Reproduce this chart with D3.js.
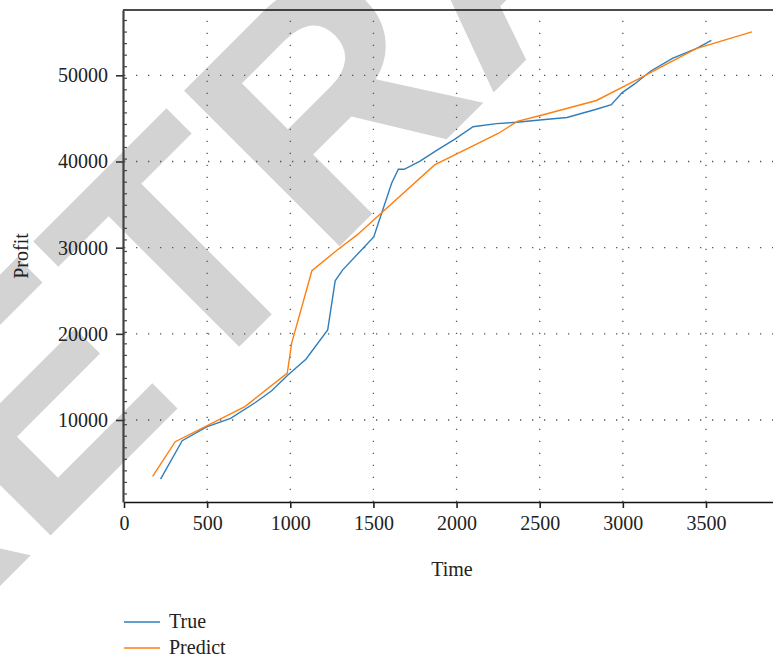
<!DOCTYPE html>
<html>
  <head>
    <meta charset="utf-8">
    <script src="https://d3js.org/d3.v7.min.js"></script>
    <style>
      body {margin:0; background:white;}
      text {font-family: "Liberation Serif", "DejaVu Serif", serif;}
    </style>
  </head>
  <body>
    <div id="chart1"></div>
    <script>
      // values
      var trueTime   = [220, 350, 497, 641, 788, 888, 984, 1094, 1225, 1270, 1314, 1502, 1610, 1650, 1685, 1780, 1890, 1990, 2099, 2240, 2360, 2516, 2664, 2830, 2931, 2996, 3071, 3168, 3301, 3441, 3532];
      var trueProfit = [3150, 7600, 9200, 10200, 12000, 13400, 15200, 17050, 20450, 26150, 27400, 31250, 37500, 39100, 39100, 40050, 41400, 42600, 44030, 44400, 44550, 44840, 45100, 46000, 46600, 48000, 49000, 50500, 52000, 53100, 54050];
      var predTime   = [172, 308, 727, 982, 1008, 1130, 1290, 1400, 1868, 2250, 2365, 2516, 2841, 3101, 3231, 3441, 3776];
      var predProfit = [3450, 7480, 11550, 15450, 18900, 27320, 29850, 31450, 39600, 43250, 44650, 45400, 47080, 49640, 50990, 53100, 55050];

      var xTicks = [0, 500, 1000, 1500, 2000, 2500, 3000, 3500];
      var yTicks = [10000, 20000, 30000, 40000, 50000];
      var seriesNames = ["True", "Predict"];
      var seriesColors = ["#2f7ebc", "#ff7f0e"];

      var W = 773, H = 657;
      var plotLeft = 124, plotRight = 773, plotTop = 10, plotBottom = 502;

      var svg = d3.select("#chart1")
        .append("svg")
          .attr("width", W)
          .attr("height", H);

      // watermark
      svg.append("text")
        .attr("transform", "translate(-128,714) rotate(-45)")
        .style("font-family", "'Liberation Sans', Arial, sans-serif")
        .style("font-weight", "bold")
        .style("font-size", "320px")
        .attr("fill", "#d3d3d3")
        .text("RETRACTED");

      var x = d3.scaleLinear().domain([0, 3903]).range([plotLeft, plotRight]);
      var y = d3.scaleLinear().domain([487, 57580]).range([plotBottom, plotTop]);

      // dotted grid
      svg.append("g").selectAll("line")
        .data(yTicks).enter().append("line")
          .attr("x1", plotLeft).attr("x2", plotRight)
          .attr("y1", function(d){ return y(d); })
          .attr("y2", function(d){ return y(d); })
          .attr("stroke", "#555")
          .attr("stroke-width", 1.3)
          .attr("stroke-dasharray", "1.3,10.7");
      svg.append("g").selectAll("line")
        .data(xTicks.slice(1)).enter().append("line")
          .attr("x1", function(d){ return x(d); })
          .attr("x2", function(d){ return x(d); })
          .attr("y1", plotBottom).attr("y2", plotTop)
          .attr("stroke", "#555")
          .attr("stroke-width", 1.3)
          .attr("stroke-dasharray", "1.3,10.7");

      // top frame line
      svg.append("line")
        .attr("x1", plotLeft - 1).attr("x2", plotRight)
        .attr("y1", plotTop).attr("y2", plotTop)
        .attr("stroke", "#111").attr("stroke-width", 1.6);

      // x axis
      var xAxis = svg.append("g")
        .attr("transform", "translate(0," + plotBottom + ")")
        .call(d3.axisBottom(x).tickValues(xTicks).tickSize(6).tickSizeOuter(0).tickPadding(8).tickFormat(d3.format("d")));
      xAxis.select(".domain").attr("stroke", "#111").attr("stroke-width", 1.6);
      xAxis.selectAll(".tick line").attr("stroke", "#222").attr("stroke-width", 1.6);
      xAxis.selectAll("text").style("font-family", "'Liberation Serif', serif").style("font-size", "20px").attr("fill", "#222");

      // y axis
      var yAxis = svg.append("g")
        .attr("transform", "translate(" + (plotLeft - 1) + ",0)")
        .call(d3.axisLeft(y).tickValues(yTicks).tickSize(7).tickSizeOuter(0).tickPadding(8).tickFormat(d3.format("d")));
      yAxis.select(".domain").attr("stroke", "#444").attr("stroke-width", 2.2);
      yAxis.selectAll(".tick line").attr("stroke", "#333").attr("stroke-width", 1.6);
      yAxis.selectAll("text").style("font-family", "'Liberation Serif', serif").style("font-size", "20px").attr("fill", "#222");

      // small inner ticks on the left axis
      var minorTicks = d3.range(51000 - 1340 * 37, 57580, 1340).filter(function(d){ return d > 487; });
      svg.append("g").selectAll("line")
        .data(minorTicks).enter().append("line")
          .attr("x1", plotLeft).attr("x2", plotLeft + 3)
          .attr("y1", function(d){ return y(d); })
          .attr("y2", function(d){ return y(d); })
          .attr("stroke", "#444").attr("stroke-width", 1.2);

      // lines
      var line = d3.line()
        .x(function(d){ return x(d[0]); })
        .y(function(d){ return y(d[1]); });
      var series = [d3.zip(trueTime, trueProfit), d3.zip(predTime, predProfit)];
      for (var i = 0; i < series.length; i++) {
        svg.append("path")
          .datum(series[i])
          .attr("d", line)
          .attr("fill", "none")
          .attr("stroke", seriesColors[i])
          .attr("stroke-width", 1.4);
      }

      // axis titles
      svg.append("text")
        .attr("x", 452).attr("y", 576)
        .attr("text-anchor", "middle")
        .style("font-size", "20px").attr("fill", "#222")
        .text("Time");
      svg.append("text")
        .attr("transform", "translate(28,256) rotate(-90)")
        .attr("text-anchor", "middle")
        .style("font-size", "20px").attr("fill", "#222")
        .text("Profit");

      // legend
      for (var j = 0; j < seriesNames.length; j++) {
        svg.append("line")
          .attr("x1", 124).attr("x2", 160)
          .attr("y1", 622 + j * 26).attr("y2", 622 + j * 26)
          .attr("stroke", seriesColors[j]).attr("stroke-width", 1.5);
        svg.append("text")
          .attr("x", 169).attr("y", 628 + j * 26)
          .style("font-size", "20px").attr("fill", "#222")
          .text(seriesNames[j]);
      }
    </script>
  </body>
</html>
